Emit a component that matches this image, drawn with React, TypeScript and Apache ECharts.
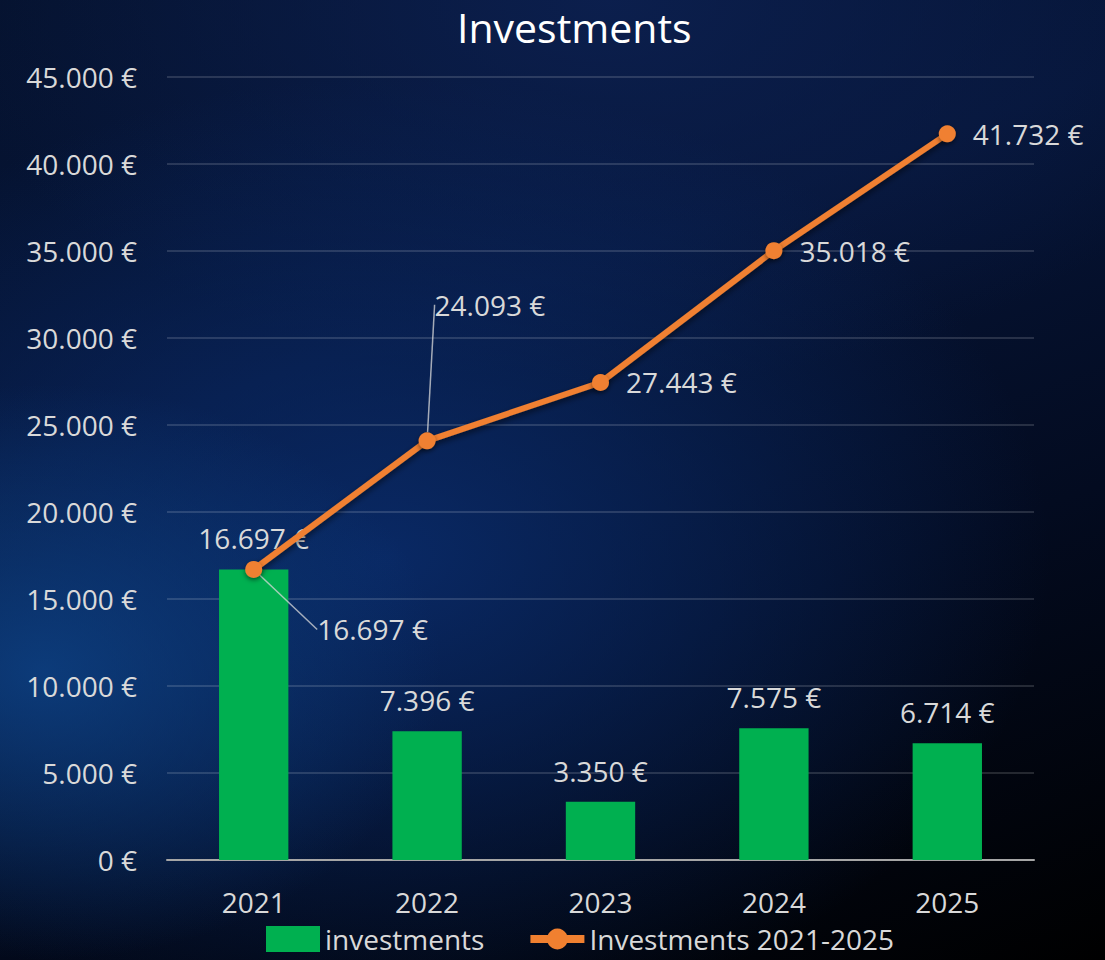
import React, { useEffect, useRef } from "react";
import * as echarts from "echarts";

const years = ["2021", "2022", "2023", "2024", "2025"];
const investments = [16697, 7396, 3350, 7575, 6714];
const cumulative = [16697, 24093, 27443, 35018, 41732];
const yTicks = { min: 0, max: 45000, interval: 5000 };
// label shifts (pixels) for the cumulative line labels that use leader lines
const lineLabelShift = [
  { dx: 38, dy: 60 },
  { dx: -18, dy: -136 },
  { dx: 0, dy: 0 },
  { dx: 0, dy: 0 },
  { dx: 0, dy: 0 },
];
const lineLabelGuide = [true, true, false, false, false];

const FONT = "'Open Sans', sans-serif";
const TEXT = "#D9D9D9";
const ORANGE = "#F08030";

const fmt = (v: number) =>
  String(Math.round(v)).replace(/\B(?=(\d{3})+(?!\d))/g, ".") + " €";

export default function App() {
  const ref = useRef<HTMLDivElement>(null);
  useEffect(() => {
    if (!ref.current) return;
    const chart = echarts.init(ref.current, null, { renderer: "svg" });
    chart.setOption({
      animation: false,
      backgroundColor: "transparent",
      textStyle: { fontFamily: FONT },
      title: {
        text: "Investments",
        left: 452,
        top: 1,
        textStyle: { color: "#FFFFFF", fontSize: 41, fontWeight: "normal", fontFamily: FONT },
      },
      legend: {
        bottom: 2,
        left: 261,
        itemGap: 42,
        itemWidth: 54,
        itemHeight: 26,
        textStyle: { color: TEXT, fontSize: 28, fontFamily: FONT },
        data: [
          { name: "investments", icon: "rect" },
          { name: "Investments 2021-2025", lineStyle: { width: 8, color: ORANGE } },
        ],
      },
      grid: { left: 167, right: 71, top: 77, bottom: 100 },
      xAxis: {
        type: "category",
        data: years,
        axisTick: { show: false },
        axisLine: { lineStyle: { color: "#A6A6A6", width: 2 } },
        axisLabel: { color: TEXT, fontSize: 28, margin: 28, fontFamily: FONT },
      },
      yAxis: {
        type: "value",
        min: yTicks.min,
        max: yTicks.max,
        interval: yTicks.interval,
        axisLine: { show: false },
        axisTick: { show: false },
        splitLine: { lineStyle: { color: "rgba(255,255,255,0.14)", width: 2 } },
        axisLabel: { color: TEXT, fontSize: 28, margin: 30, fontFamily: FONT, formatter: (v: number) => fmt(v) },
      },
      series: [
        {
          name: "investments",
          type: "bar",
          data: investments,
          barWidth: "40%",
          itemStyle: { color: "#00B050" },
          label: {
            show: true,
            position: "top",
            distance: 17,
            color: TEXT,
            fontSize: 28,
            fontFamily: FONT,
            formatter: (p: any) => fmt(p.value),
          },
          z: 2,
        },
        {
          name: "Investments 2021-2025",
          type: "line",
          data: cumulative.map((v, i) => ({
            value: v,
            labelLine: { show: lineLabelGuide[i] },
          })),
          symbol: "circle",
          symbolSize: 17,
          lineStyle: {
            color: ORANGE,
            width: 6,
            shadowColor: "rgba(0,0,0,0.55)",
            shadowBlur: 6,
            shadowOffsetY: 3,
          },
          itemStyle: { color: ORANGE, shadowColor: "rgba(0,0,0,0.5)", shadowBlur: 5, shadowOffsetY: 2 },
          label: {
            show: true,
            position: "right",
            distance: 17,
            color: TEXT,
            fontSize: 28,
            fontFamily: FONT,
            formatter: (p: any) => fmt(p.value),
          },
          labelLine: {
            show: true,
            lineStyle: { color: "rgba(217,217,217,0.75)", width: 1.5 },
          },
          labelLayout: (p: any) => lineLabelShift[p.dataIndex] || {},
          z: 5,
        },
      ],
    });
    return () => chart.dispose();
  }, []);

  return (
    <div
      style={{
        position: "fixed",
        left: 0,
        top: 0,
        width: 1105,
        height: 960,
        background:
          "radial-gradient(ellipse 36% 30% at 4% 70%, rgba(14,70,140,0.75), rgba(14,70,140,0) 100%)," +
          "radial-gradient(ellipse 60% 50% at 35% 58%, rgba(10,45,110,0.85), rgba(10,45,110,0) 100%)," +
          "radial-gradient(ellipse 60% 40% at 55% 0%, rgba(12,32,80,0.9), rgba(12,32,80,0) 100%)," +
          "linear-gradient(160deg, #05122e 0%, #061538 35%, #030b20 65%, #000000 100%)",
      }}
    >
      <div ref={ref} style={{ width: 1105, height: 960 }} />
    </div>
  );
}
